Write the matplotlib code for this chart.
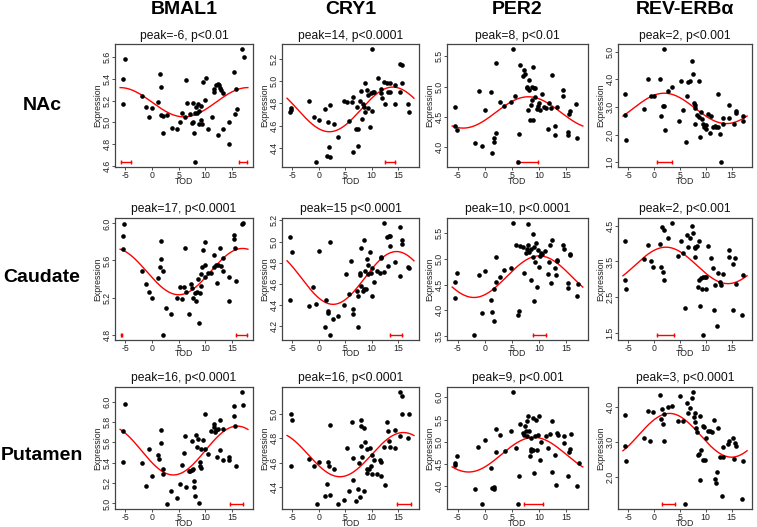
import numpy as np
import matplotlib
matplotlib.use('Agg')
import matplotlib.pyplot as plt

plt.rcParams['font.family'] = ['Liberation Sans', 'DejaVu Sans']
plt.rcParams['axes.unicode_minus'] = False

genes = ['BMAL1', 'CRY1', 'PER2', 'REV-ERBα']
regions = ['NAc', 'Caudate', 'Putamen']

# ---------------- NAc ----------------
nac_bmal1_tod = [-5.48,-5.17,-5.48,-1.87,-1.06,-0.5,0.06,1.18,1.5,1.74,1.6,2.1,2.1,2.8,3.7,4.7,5.3,5.7,6.36,6.1,6.5,7.1,7.5,7.7,7.7,7.85,8.0,8.0,8.3,8.5,8.7,8.8,8.85,9.2,9.35,9.1,9.6,10.0,10.1,10.5,11.2,11.65,11.7,11.96,12.3,12.5,12.8,13.0,12.3,13.4,13.4,14.45,14.5,15.45,15.64,15.76,15.9,16.95,17.26]
nac_bmal1_expr = [5.40,5.58,5.17,5.24,5.14,5.05,5.13,5.19,5.45,5.33,5.07,5.06,4.90,5.07,4.95,4.94,5.00,5.09,5.39,5.05,5.18,5.08,4.99,5.18,5.00,4.90,5.09,4.63,5.14,5.09,5.17,5.10,4.98,5.02,4.98,5.15,5.37,5.21,5.41,4.94,5.05,5.28,5.31,5.34,5.35,5.34,5.32,5.30,4.88,5.27,4.94,5.00,4.80,5.46,5.08,5.31,5.12,5.68,5.60]

nac_cry1_tod = [-5.3,-5.2,-5.4,-1.8,-1.0,0.06,-0.6,1.17,1.67,2.16,1.85,1.5,2.1,2.9,3.7,4.75,5.25,5.8,6.2,6.5,6.4,7.1,7.5,7.4,7.3,7.8,8.0,8.1,8.3,8.5,8.8,9.07,8.77,9.26,9.4,9.6,10.06,9.94,10.25,10.0,10.4,11.2,11.7,11.85,11.9,12.35,12.5,12.84,13.1,13.4,13.46,14.4,14.5,15.3,15.7,15.8,15.4,16.85,17.16]
nac_cry1_expr = [4.76,4.74,4.72,4.82,4.68,4.65,4.27,4.75,4.63,4.78,4.41,4.33,4.32,4.61,4.50,4.82,4.81,4.64,4.81,4.86,4.36,4.57,4.57,4.42,4.77,4.82,4.91,4.66,4.79,4.77,4.72,4.92,4.98,4.87,4.76,4.59,4.73,4.89,4.90,5.29,4.90,5.03,4.93,4.89,4.85,4.99,4.79,4.98,4.90,4.98,4.90,4.79,4.96,5.15,5.14,4.98,4.90,4.79,4.72]

nac_per2_tod = [-5.45,-5.45,-5.2,-1.86,-1.1,-0.56,0,1.05,1.36,1.67,1.67,2.04,2.04,2.7,3.6,4.77,5.14,5.63,6.0,6.25,6.5,7.0,7.24,7.3,7.74,7.8,7.9,8.05,8.1,8.3,8.5,8.6,8.67,8.8,8.9,9.1,9.3,9.2,9.5,9.7,9.9,10.1,10.5,10.96,11.3,11.6,11.76,12.1,12.4,12.9,12.9,13.2,14.3,14.43,15.3,15.3,15.54,15.7,16.84,17.0]
nac_per2_expr = [4.66,4.35,4.28,4.07,4.93,4.02,4.61,4.91,3.90,4.08,4.14,4.23,5.39,4.75,4.68,4.75,5.63,4.85,3.74,4.21,5.35,5.17,5.27,5.20,4.99,4.97,4.61,4.94,5.10,4.44,4.69,4.77,5.00,5.32,4.44,4.98,4.83,4.97,4.62,4.67,4.73,4.61,4.87,4.66,4.65,4.30,4.73,4.65,5.19,4.35,4.20,4.66,4.95,4.85,4.25,4.19,4.55,4.59,4.71,4.14]

nac_rev_tod = [-5.64,-5.64,-5.33,-2.0,-1.2,-0.63,0,1.13,1.38,1.7,1.9,2.0,2.07,2.76,3.57,4.83,5.2,5.7,6.14,6.4,6.5,7.0,7.4,7.6,7.8,7.96,7.84,7.96,8.4,8.7,8.78,8.9,9.1,9.2,9.5,9.7,10.0,10.03,10.5,10.9,11.1,11.4,11.8,12.0,12.35,12.4,12.85,13.0,13.3,13.4,14.5,14.5,15.5,15.8,15.86,17.2,17.24]
nac_rev_expr = [3.45,2.72,1.81,2.94,4.00,3.41,3.41,4.02,2.66,3.02,3.05,5.11,2.15,3.58,3.73,2.48,3.93,2.87,1.72,3.39,3.91,3.93,4.65,4.18,3.15,3.07,2.37,2.96,2.72,2.64,3.93,1.91,2.83,2.56,2.39,2.27,2.20,2.36,2.76,2.05,2.66,2.26,2.30,2.27,2.27,3.45,2.03,0.99,2.58,2.39,3.08,2.58,2.38,2.78,2.84,2.66,2.48]

# ---------------- Caudate ----------------
cau_bmal1_tod = [-5.53,-5.2,-5.53,-1.86,-1.12,-0.56,0,1.12,1.43,1.6,1.74,2.05,2.05,2.67,3.6,4.7,5.2,5.65,6.0,6.27,6.46,7.0,7.4,7.58,7.76,8.0,8.2,8.4,8.63,8.8,9.0,9.1,9.2,9.3,9.5,9.9,9.94,10.0,10.5,11.1,11.6,11.7,12.0,12.2,12.36,12.7,13.0,13.3,13.4,14.4,14.4,15.3,15.3,15.65,15.8,16.8,17.1]
cau_bmal1_expr = [5.86,5.99,5.72,5.49,5.35,5.26,5.20,5.41,5.53,5.81,5.62,5.49,4.79,5.09,5.02,5.19,5.31,5.18,5.31,5.74,5.26,5.02,5.35,5.30,5.20,5.25,5.16,5.26,5.40,4.92,5.25,5.45,5.32,5.53,5.71,5.55,5.80,5.42,5.47,5.47,5.53,5.66,5.55,5.36,5.55,5.73,5.54,5.49,5.63,5.42,5.16,5.88,5.83,5.73,5.38,5.99,6.01]

cau_cry1_tod = [-5.43,-5.12,-5.43,-1.9,-1.05,-0.5,0,1.36,1.67,1.8,2.1,1.1,2.04,2.78,3.7,4.75,5.2,5.68,6.17,6.4,6.5,7.16,7.4,7.5,7.78,7.78,7.9,8.0,8.33,8.46,8.58,8.7,9.0,9.07,9.26,9.4,9.63,9.8,10.0,10.1,10.4,11.05,11.5,11.7,11.85,12.4,12.3,12.84,13.1,13.2,13.4,13.4,14.44,15.3,15.3,15.74,15.74,16.8,17.1]
cau_cry1_expr = [5.04,4.90,4.45,4.39,4.57,4.41,4.91,4.45,4.32,4.34,5.00,4.19,4.11,4.27,4.29,4.40,4.69,4.50,4.82,4.36,4.31,4.53,4.19,4.48,4.70,4.68,4.58,4.94,4.53,5.01,4.55,4.72,4.55,4.83,4.69,4.78,4.90,4.70,4.48,4.75,4.62,4.72,4.70,4.84,4.85,4.71,5.18,5.04,4.77,5.05,5.05,4.96,4.81,5.14,4.67,5.01,4.98,4.76,4.75]

cau_per2_tod = [-5.47,-5.47,-5.16,-1.93,-1.12,-0.56,0,1.06,1.37,1.68,1.6,2.05,2.05,2.73,3.6,4.72,5.16,5.65,6.0,6.27,6.52,7.0,7.27,7.5,7.7,7.9,7.95,8.14,8.4,8.5,8.76,8.88,9.0,9.07,9.2,9.38,9.5,9.75,9.88,10.06,10.25,10.56,11.1,11.6,11.74,12.0,12.23,12.42,12.9,13.04,13.35,13.35,14.35,14.47,15.34,15.34,15.65,15.7,16.9,17.2]
cau_per2_expr = [4.55,4.24,4.72,3.51,4.69,3.94,4.77,4.21,3.97,3.79,4.41,4.56,5.03,4.64,4.79,4.83,5.71,5.27,3.90,3.99,5.26,5.23,4.73,5.11,5.19,5.28,5.68,5.13,4.59,5.20,5.03,5.48,4.19,5.24,4.95,5.32,4.45,5.18,4.85,5.05,5.11,5.09,5.16,4.71,4.95,5.27,4.54,5.37,4.82,4.69,4.98,4.96,5.27,5.19,4.53,4.43,5.10,5.07,4.28,4.51]

cau_rev_tod = [-5.64,-5.64,-5.33,-2.0,-1.25,-0.63,-0.13,1.07,1.38,1.5,1.76,2.0,2.0,2.63,3.57,4.7,5.14,5.64,6.08,6.4,6.52,7.0,7.33,7.46,7.84,7.96,7.84,8.28,8.46,8.65,8.78,8.9,9.1,9.2,9.4,9.84,10.0,9.53,10.03,10.47,11.1,11.4,11.6,11.8,12.35,12.16,12.85,13.04,13.4,14.55,14.55,15.36,15.36,15.67,15.8,16.93,17.24]
cau_rev_expr = [4.06,2.98,2.74,3.57,3.95,3.51,3.35,4.00,3.34,4.47,3.21,4.37,2.99,4.15,4.59,3.64,4.06,3.74,2.20,4.24,3.90,4.16,4.50,4.31,3.87,3.90,3.62,3.94,2.80,2.99,4.06,2.25,3.05,2.73,3.06,3.06,2.73,1.43,3.07,3.92,3.60,3.32,2.13,2.85,3.19,1.69,2.92,2.83,3.16,3.81,3.62,2.13,3.44,3.59,2.88,2.01,3.13]

# ---------------- Putamen ----------------
put_bmal1_tod = [-5.47,-5.16,-5.47,-1.86,-1.12,-0.56,0,1.06,1.37,1.6,1.74,2.05,2.05,2.73,3.6,4.72,5.2,5.65,6.03,6.27,6.46,7.0,7.2,7.45,7.5,7.7,7.9,7.9,8.0,8.3,8.4,8.7,8.8,9.0,9.0,9.1,9.25,9.56,10.0,10.0,10.5,11.05,11.6,11.67,11.8,12.1,12.36,12.24,12.8,12.8,13.3,13.4,14.4,14.5,15.34,15.34,15.65,15.78,16.83,17.14]
put_bmal1_expr = [5.71,5.98,5.41,5.40,5.17,5.54,5.27,5.48,5.44,5.72,5.59,5.34,5.29,4.99,5.12,5.05,5.19,5.38,5.50,5.66,5.16,5.32,5.32,5.61,5.33,5.34,5.22,5.16,5.07,5.67,5.55,5.63,5.00,5.41,5.37,5.35,5.54,5.62,5.88,5.54,5.49,5.71,5.78,5.75,5.70,5.72,5.73,5.46,5.82,5.53,5.43,5.73,5.43,5.46,5.86,5.96,5.76,5.37,6.10,5.97]

put_cry1_tod = [-5.3,-5.06,-5.3,-1.8,-1.0,0,-0.43,1.17,1.5,1.67,1.85,2.16,2.1,2.84,3.7,4.8,5.25,5.8,6.23,6.4,6.54,7.1,7.4,7.53,7.84,7.9,7.96,8.02,8.2,8.46,8.52,8.7,9.07,9.14,9.2,9.44,9.63,9.88,10.0,10.06,10.5,11.1,11.6,11.73,11.85,12.3,12.47,12.84,13.1,13.27,13.4,14.44,14.44,15.3,15.3,15.74,15.8,16.8,17.16]
put_cry1_expr = [5.00,4.95,4.57,4.63,4.57,4.61,4.26,4.33,4.43,4.61,4.57,4.91,4.34,4.55,4.26,4.30,4.72,4.37,4.93,4.46,4.64,4.29,4.39,4.60,4.32,4.95,4.90,4.74,4.65,4.88,4.37,4.77,4.52,4.71,4.55,4.55,4.72,4.57,4.51,4.66,4.62,4.51,4.62,4.49,4.61,4.73,4.42,4.93,4.86,4.78,4.73,4.72,4.87,5.18,4.82,5.00,5.14,4.80,5.00]

put_per2_tod = [-5.5,-5.5,-5.2,-1.9,-1.18,-0.56,0,1.1,1.36,1.6,1.67,2.05,2.05,2.72,3.66,4.78,5.15,5.65,6.08,6.33,6.52,7.0,7.27,7.45,7.64,7.7,7.76,7.95,8.14,8.26,8.4,8.45,8.57,8.76,8.9,9.0,9.2,9.38,9.5,9.8,10.0,10.1,10.37,11.18,11.68,11.93,12.3,12.42,12.92,13.1,13.35,13.48,14.47,14.47,15.34,15.47,15.7,15.78,16.96,17.27]
put_per2_expr = [4.52,4.48,4.68,3.93,4.88,3.59,5.05,4.42,3.95,3.93,3.98,5.28,4.77,5.16,4.80,5.25,6.13,4.86,3.60,4.22,5.41,5.19,5.16,5.35,5.25,5.12,5.47,5.58,5.24,4.67,4.80,4.84,5.09,4.82,5.53,4.30,5.13,5.50,4.82,5.16,5.59,4.60,5.00,5.13,4.85,5.17,4.33,5.47,4.70,4.02,5.19,5.16,5.13,4.98,4.22,4.76,4.84,5.18,4.00,4.52]

put_rev_tod = [-5.64,-5.64,-5.33,-2.0,-1.2,-0.69,-0.19,1.07,1.38,1.5,1.7,2.0,2.0,2.76,3.57,4.7,5.08,5.64,6.08,6.4,6.52,7.0,7.33,7.46,7.65,7.84,7.96,8.15,8.28,8.46,8.7,8.84,8.9,9.1,9.4,9.53,9.7,9.9,10.03,10.47,10.8,11.16,11.6,11.8,11.9,12.2,12.4,12.85,13.1,13.3,13.4,14.4,14.55,15.36,15.5,15.7,15.8,16.93,17.24]
put_rev_expr = [3.76,2.89,2.45,3.11,3.87,3.02,3.86,4.33,3.65,3.94,3.51,3.79,3.02,4.00,4.03,3.59,4.31,3.59,1.23,4.11,3.81,3.96,4.26,4.43,3.70,3.81,3.56,3.39,3.27,2.64,2.66,3.75,1.93,2.76,3.45,2.49,3.43,2.49,3.10,3.30,3.30,3.29,3.62,1.95,1.85,2.14,3.40,2.58,1.46,2.58,2.87,2.94,3.02,3.10,2.53,2.97,2.89,1.39,2.47]

# panel titles
titles = ['peak=-6, p<0.01', 'peak=14, p<0.0001', 'peak=8, p<0.01', 'peak=2, p<0.001',
          'peak=17, p<0.0001', 'peak=15 p<0.0001', 'peak=10, p<0.0001', 'peak=2, p<0.001',
          'peak=16, p<0.0001', 'peak=16, p<0.0001', 'peak=9, p<0.001', 'peak=3, p<0.0001']

# cosinor fit parameters (mesor, amplitude, acrophase in hours, period 24 h)
fit_mesor = [5.185, 4.745, 4.57, 2.945, 5.48, 4.655, 4.655, 3.39, 5.52, 4.666, 4.71, 3.19]
fit_amp = [0.135, 0.20, 0.26, 0.55, 0.25, 0.25, 0.405, 0.51, 0.24, 0.18, 0.39, 0.62]
fit_phase = [-6, 14, 8, 2, 17, 14.7, 10, 2.3, 16, 16, 9, 3]

# confidence interval of peak (segments, in TOD hours)
peak_ci = [[(-5.8, -4.0), (16.4, 17.9)], [(12.6, 14.4)], [(5.9, 9.7)], [(0.6, 3.45)],
           [(-5.75, -5.6), (15.8, 17.8)], [(13.5, 15.7)], [(8.9, 11.3)], [(0.6, 3.8)],
           [(14.7, 17.1)], [(14.75, 17.4)], [(7.27, 10.7)], [(1.57, 4.0)]]

x_ticks = [-5, 0, 5, 10, 15]
y_ticks = [[4.6, 4.8, 5.0, 5.2, 5.4, 5.6], [4.4, 4.6, 4.8, 5.0, 5.2], [4.0, 4.5, 5.0, 5.5], [1.0, 2.0, 3.0, 4.0, 5.0],
           [4.8, 5.2, 5.6, 6.0], [4.2, 4.4, 4.6, 4.8, 5.0, 5.2], [3.5, 4.0, 4.5, 5.0, 5.5], [1.5, 2.5, 3.5, 4.5],
           [5.0, 5.2, 5.4, 5.6, 5.8, 6.0], [4.4, 4.6, 4.8, 5.0], [4.0, 4.5, 5.0, 5.5, 6.0], [2.0, 3.0, 4.0]]

tods = [nac_bmal1_tod, nac_cry1_tod, nac_per2_tod, nac_rev_tod,
        cau_bmal1_tod, cau_cry1_tod, cau_per2_tod, cau_rev_tod,
        put_bmal1_tod, put_cry1_tod, put_per2_tod, put_rev_tod]
exprs = [nac_bmal1_expr, nac_cry1_expr, nac_per2_expr, nac_rev_expr,
         cau_bmal1_expr, cau_cry1_expr, cau_per2_expr, cau_rev_expr,
         put_bmal1_expr, put_cry1_expr, put_per2_expr, put_rev_expr]

W, H = 757, 527
fig = plt.figure(figsize=(W / 100, H / 100), dpi=100)
fig.patch.set_facecolor('white')

col_px = [(115, 253), (282, 419), (447, 588), (618, 752)]
row_px = [(44, 167), (218, 340), (387, 509)]
row_label_px = [(42, 105), (42, 277), (42, 456)]
fs_small = 6.3

for i in range(3):
    for j in range(4):
        k = i * 4 + j
        x0, x1 = col_px[j]
        y0, y1 = row_px[i]
        ax = fig.add_axes([x0 / W, 1 - y1 / H, (x1 - x0) / W, (y1 - y0) / H])
        tod = np.array(tods[k])
        ex = np.array(exprs[k])
        ax.scatter(tod, ex, s=11, c='black', linewidths=0, zorder=3)
        xs = np.linspace(-6, 18, 300)
        ax.plot(xs, fit_mesor[k] + fit_amp[k] * np.cos(2 * np.pi * (xs - fit_phase[k]) / 24),
                color='red', lw=1.0, zorder=2)
        ybar = ex.min()
        for a, b in peak_ci[k]:
            ax.plot([a, b], [ybar, ybar], color='red', lw=1.0, marker='|', ms=3.5, mew=1.0, zorder=2)
        r = ex.max() - ex.min()
        ax.set_ylim(ex.min() - 0.04 * r, ex.max() + 0.04 * r)
        ax.set_xlim(-6.96, 18.96)
        ax.set_xticks(x_ticks)
        ax.set_xticklabels([str(v) for v in x_ticks])
        ax.set_yticks(y_ticks[k])
        ax.set_yticklabels([f'{v:.1f}' for v in y_ticks[k]])
        ax.tick_params(labelsize=fs_small, length=2, width=0.6, pad=0.6,
                       colors='#333333', labelcolor='#222222')
        plt.setp(ax.get_yticklabels(), rotation=90, va='center')
        for s in ax.spines.values():
            s.set_color('#444444')
            s.set_linewidth(0.9)
        ax.set_xlabel('TOD', fontsize=fs_small, va='center', color='#222222')
        ax.xaxis.set_label_coords(0.5, -14 / (y1 - y0))
        ax.set_ylabel('Expression', fontsize=fs_small, va='center', ha='center', color='#222222')
        ax.yaxis.set_label_coords(-17 / (x1 - x0), 0.5)
        fig.text((x0 + x1) / 2 / W, 1 - (y0 - 8.5) / H, titles[k], fontsize=8.7,
                 ha='center', va='center', color='#111111')

for j in range(4):
    x0, x1 = col_px[j]
    fig.text((x0 + x1) / 2 / W, 1 - 10 / H, genes[j], fontsize=14, fontweight='bold',
             ha='center', va='center')
for i in range(3):
    cx, cy = row_label_px[i]
    fig.text(cx / W, 1 - cy / H, regions[i], fontsize=14, fontweight='bold',
             ha='center', va='center')

fig.savefig('out.png', dpi=100)
